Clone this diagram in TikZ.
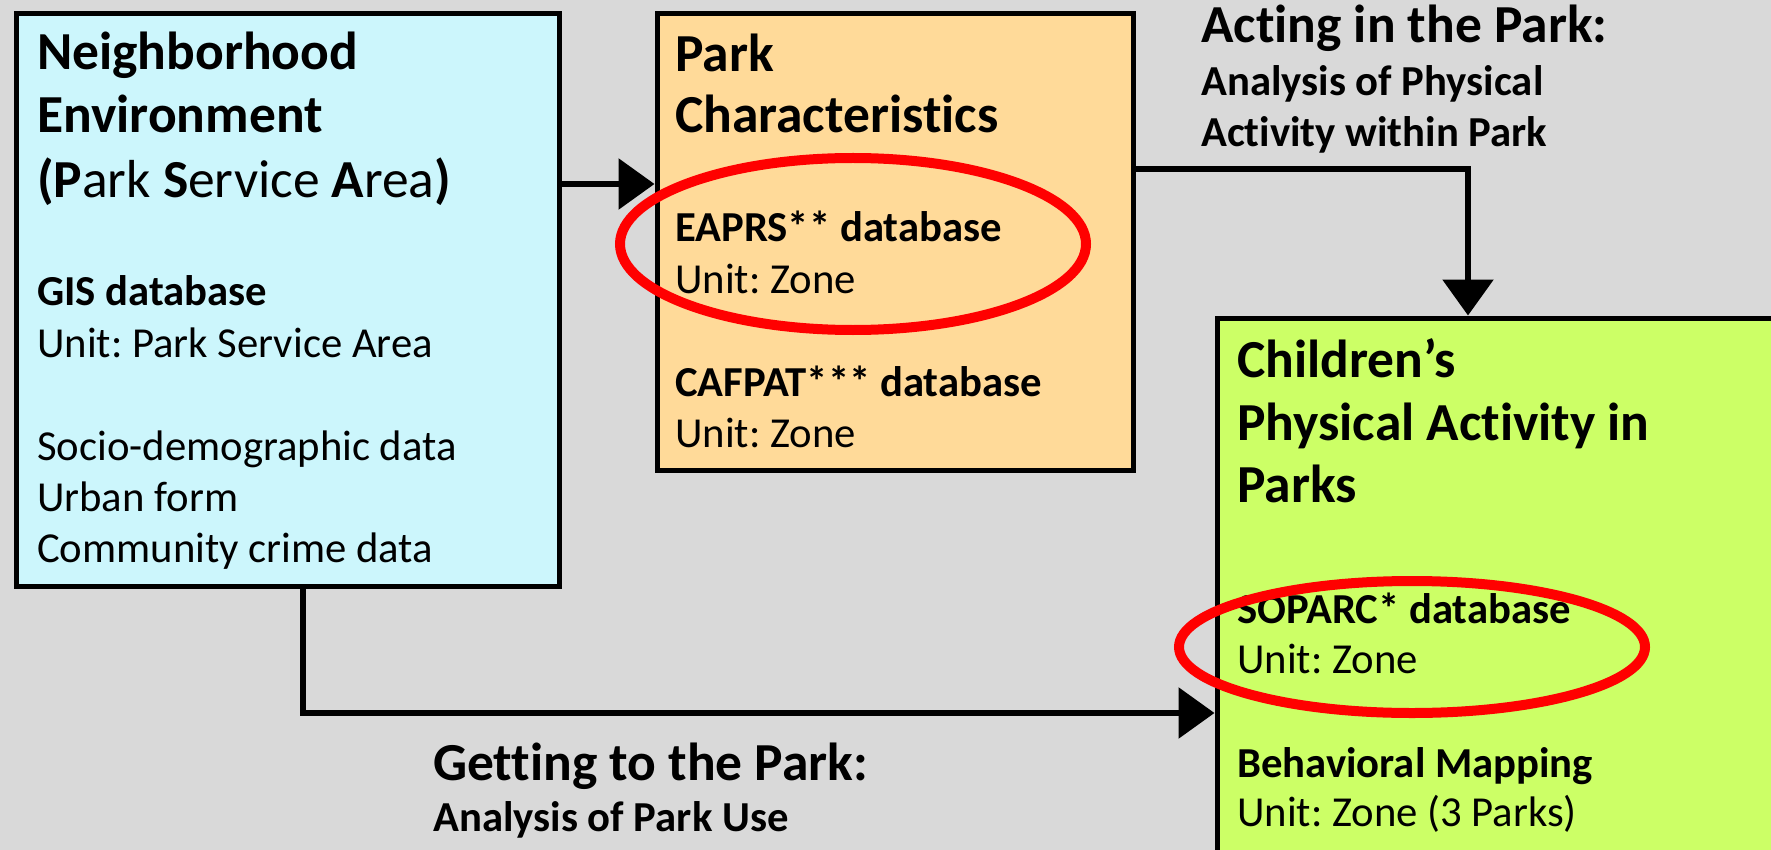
\documentclass[tikz,border=0pt]{standalone}
\usepackage{fontspec}
\setmainfont[Ligatures=NoCommon]{Carlito}
\usetikzlibrary{arrows.meta}
\definecolor{bg}{RGB}{217,217,217}
\definecolor{cyanbox}{RGB}{204,246,252}
\definecolor{orangebox}{RGB}{255,218,153}
\definecolor{greenbox}{RGB}{204,255,102}
\definecolor{ringred}{RGB}{255,0,0}
\frenchspacing
\begin{document}
\begin{tikzpicture}[x=1pt,y=-1pt,
  box/.style={draw=black, line width=5pt, anchor=north west, inner sep=0pt},
  ttl/.style={anchor=base west, inner sep=0pt, font=\fontsize{53.5}{63}\selectfont\bfseries},
  bodyb/.style={anchor=base west, inner sep=0pt, font=\fontsize{42.7}{52}\selectfont\bfseries},
  body/.style={anchor=base west, inner sep=0pt, font=\fontsize{42.7}{52}\selectfont},
  arr/.style={line width=6pt, -{Triangle[length=36pt,width=50pt]}},
  ring/.style={draw=ringred, line width=10pt}]
\fill[bg] (0,0) rectangle (1771,850);
\useasboundingbox (0,0) rectangle (1771,850);
\clip (0,0) rectangle (1771,850);
% boxes
\node[box, fill=cyanbox, minimum width=543pt, minimum height=572pt] (nbr) at (13.5,11.5) {};
\node[box, fill=orangebox, minimum width=476pt, minimum height=456pt] (park) at (654.5,11.5) {};
\node[box, fill=greenbox, minimum width=600pt, minimum height=600pt] (kids) at (1214.5,315.5) {};
% box 1 text
\node[ttl] (t1a) at (37,70) {Neighborhood};
\node[ttl] (t1b) at (37,133) {Environment};
\node[ttl] (t1c) at (37,198) {(P\mdseries ark \bfseries S\mdseries ervice \bfseries A\mdseries rea\bfseries )};
\node[bodyb] (t1d) at (37,305) {GIS database};
\node[body] (t1e) at (37,357) {Unit: Park Service Area};
\node[body] (t1f) at (37,460) {Socio-demographic data};
\node[body] (t1g) at (37,511) {Urban form};
\node[body] (t1h) at (37,562) {Community crime data};
% box 2 text
\node[ttl] (t2a) at (675,72) {Park};
\node[ttl] (t2b) at (675,133) {Characteristics};
\node[bodyb] (t2c) at (675,242) {EAPRS** database};
\node[body] (t2d) at (675,293) {Unit: Zone};
\node[bodyb] (t2e) at (675,396) {CAFPAT*** database};
\node[body] (t2f) at (675,447) {Unit: Zone};
% box 3 text
\node[ttl] (t3a) at (1237,377) {Children’s};
\node[ttl] (t3b) at (1237,440) {Physical Activity in};
\node[ttl] (t3c) at (1237,502) {Parks};
\node[bodyb] (t3d) at (1237,623) {SOPARC* database};
\node[body] (t3e) at (1237,673) {Unit: Zone};
\node[bodyb] (t3f) at (1237,777) {Behavioral Mapping};
\node[body] (t3g) at (1237,826) {Unit: Zone (3 Parks)};
% labels
\node[ttl] (l1a) at (1201,43) {Acting in the Park:};
\node[bodyb] (l1b) at (1201,96) {Analysis of Physical};
\node[bodyb] (l1c) at (1201,147) {Activity within Park};
\node[ttl] (l2a) at (433,780) {Getting to the Park:};
\node[bodyb] (l2b) at (433,831) {Analysis of Park Use};
% connectors
\coordinate (a1) at (0,184);
\coordinate (c2) at (1468,169);
\coordinate (c3) at (303,713);
\draw[arr] (nbr.east |- a1) -- (park.west |- a1);
\draw[arr] (park.east |- c2) -- (c2) -- (kids.north -| c2);
\draw[arr] (nbr.south -| c3) -- (c3) -- (kids.west |- c3);
% red rings
\draw[ring] (853,244) ellipse [x radius=233, y radius=86];
\draw[ring] (1412,647) ellipse [x radius=233, y radius=66];
\end{tikzpicture}
\end{document}
